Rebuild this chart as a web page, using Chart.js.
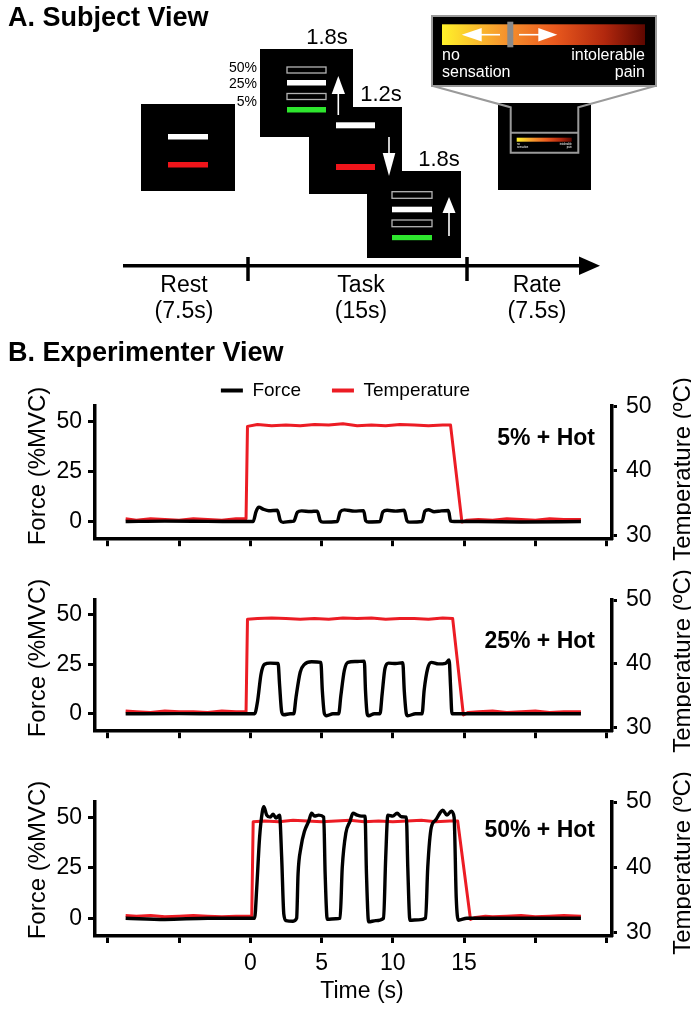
<!DOCTYPE html>
<html>
<head>
<meta charset="utf-8">
<script src="https://cdn.jsdelivr.net/npm/chart.js@4.4.1/dist/chart.umd.min.js"></script>
<style>
  html, body { margin: 0; padding: 0; background: #fff; }
  #page { position: relative; width: 691px; height: 1009px; overflow: hidden; }
  canvas { position: absolute; left: 0; }
  #overlay { position: absolute; left: 0; top: 0; pointer-events: none; }
</style>
</head>
<body>
<div id="page">
  <canvas id="p1" width="691" height="222" style="top:340px;width:691px;height:222px"></canvas>
  <canvas id="p2" width="691" height="177" style="top:577px;width:691px;height:177px"></canvas>
  <canvas id="p3" width="691" height="230" style="top:779px;width:691px;height:230px"></canvas>

  <svg id="overlay" width="691" height="1009" font-family="'Liberation Sans', Arial, sans-serif">
    <defs>
      <linearGradient id="painGrad" x1="0" x2="1" y1="0" y2="0">
        <stop offset="0" stop-color="#fff22a"/>
        <stop offset="0.3" stop-color="#f6962e"/>
        <stop offset="0.55" stop-color="#ea5a1e"/>
        <stop offset="0.8" stop-color="#b2280e"/>
        <stop offset="1" stop-color="#5e0700"/>
      </linearGradient>
    </defs>

    <!-- A. Subject View -->
    <text x="8" y="26" font-size="27" font-weight="bold">A. Subject View</text>

    <!-- rest screen -->
    <rect x="141" y="104" width="94" height="87" fill="#000"/>
    <rect x="168" y="134" width="40" height="5.5" fill="#fff"/>
    <rect x="168" y="162" width="40" height="5.5" fill="#f0141a"/>

    <!-- task screens -->
    <rect x="260" y="49" width="93" height="88" fill="#000"/>
    <rect x="309" y="107" width="93" height="87" fill="#000"/>
    <rect x="367" y="171" width="94" height="87" fill="#000"/>

    <rect x="287" y="67" width="39" height="6" fill="none" stroke="#b4b4b4" stroke-width="1.3"/>
    <rect x="287" y="80" width="39" height="5.5" fill="#fff"/>
    <rect x="287" y="93.5" width="39" height="6" fill="none" stroke="#b4b4b4" stroke-width="1.3"/>
    <rect x="287" y="107" width="39" height="5.5" fill="#2ee62e"/>
    <line x1="338.3" y1="115" x2="338.3" y2="92" stroke="#fff" stroke-width="1.6"/>
    <polygon points="331.7,94 345,94 338.3,76" fill="#fff"/>

    <rect x="336" y="122.3" width="39" height="6" fill="#fff"/>
    <rect x="336" y="164" width="39" height="6" fill="#f0141a"/>
    <line x1="389" y1="137" x2="389" y2="155" stroke="#fff" stroke-width="1.6"/>
    <polygon points="382.7,153 395.3,153 389,176" fill="#fff"/>

    <rect x="392" y="191.7" width="40" height="6.6" fill="none" stroke="#b4b4b4" stroke-width="1.3"/>
    <rect x="392" y="206.7" width="40" height="5.6" fill="#fff"/>
    <rect x="392" y="220" width="40" height="6.7" fill="none" stroke="#b4b4b4" stroke-width="1.3"/>
    <rect x="392" y="235" width="40" height="5.2" fill="#2ee62e"/>
    <line x1="449" y1="236" x2="449" y2="211" stroke="#fff" stroke-width="1.6"/>
    <polygon points="442.5,213 455.5,213 449,197" fill="#fff"/>

    <text x="327" y="44" font-size="22" text-anchor="middle">1.8s</text>
    <text x="381" y="101" font-size="22" text-anchor="middle">1.2s</text>
    <text x="439" y="166" font-size="22" text-anchor="middle">1.8s</text>
    <text x="257" y="71.5" font-size="14" text-anchor="end">50%</text>
    <text x="257" y="88" font-size="14" text-anchor="end">25%</text>
    <text x="257" y="105.5" font-size="14" text-anchor="end">5%</text>

    <!-- rate screen with zoomed scale -->
    <rect x="498" y="103" width="93" height="87" fill="#000"/>
    <polyline points="433,86 510.7,107.3 510.7,152.7 578.3,152.7 578.3,107.3 655,86" fill="none" stroke="#9a9a9a" stroke-width="2"/>
    <line x1="510.7" y1="132.7" x2="578.3" y2="132.7" stroke="#9a9a9a" stroke-width="2"/>
    <rect x="516.7" y="137.7" width="55" height="4" fill="url(#painGrad)"/>
    <text x="517" y="145" font-size="2.6" fill="#fff">no</text>
    <text x="517" y="148" font-size="2.6" fill="#fff">sensation</text>
    <text x="571.7" y="145" font-size="2.6" fill="#fff" text-anchor="end">intolerable</text>
    <text x="571.7" y="148" font-size="2.6" fill="#fff" text-anchor="end">pain</text>

    <rect x="432" y="16" width="224" height="70" fill="#000" stroke="#9a9a9a" stroke-width="2"/>
    <rect x="442" y="24.3" width="203" height="20.7" fill="url(#painGrad)"/>
    <rect x="507.3" y="21.7" width="6" height="25.6" fill="#8a8a8a"/>
    <line x1="500" y1="34.7" x2="480" y2="34.7" stroke="#fff" stroke-width="1.6"/>
    <polygon points="481.7,28 481.7,41.4 461.7,34.7" fill="#fff"/>
    <line x1="519" y1="34.7" x2="540" y2="34.7" stroke="#fff" stroke-width="1.6"/>
    <polygon points="538.3,28 538.3,41.4 557.3,34.7" fill="#fff"/>
    <text x="442" y="60" font-size="16" fill="#fff">no</text>
    <text x="442" y="77" font-size="16" fill="#fff">sensation</text>
    <text x="645" y="60" font-size="16" fill="#fff" text-anchor="end">intolerable</text>
    <text x="645" y="77" font-size="16" fill="#fff" text-anchor="end">pain</text>

    <!-- timeline -->
    <line x1="123" y1="265.7" x2="582" y2="265.7" stroke="#000" stroke-width="3.5"/>
    <polygon points="579,256.5 579,275 600,265.7" fill="#000"/>
    <line x1="248" y1="257" x2="248" y2="281" stroke="#000" stroke-width="3.5"/>
    <line x1="467" y1="257" x2="467" y2="281" stroke="#000" stroke-width="3.5"/>
    <text x="184" y="292" font-size="23" text-anchor="middle">Rest</text>
    <text x="184" y="318" font-size="23" text-anchor="middle">(7.5s)</text>
    <text x="361" y="292" font-size="23" text-anchor="middle">Task</text>
    <text x="361" y="318" font-size="23" text-anchor="middle">(15s)</text>
    <text x="537" y="292" font-size="23" text-anchor="middle">Rate</text>
    <text x="537" y="318" font-size="23" text-anchor="middle">(7.5s)</text>

    <!-- B. Experimenter View -->
    <text x="8" y="361" font-size="27" font-weight="bold">B. Experimenter View</text>

    <text transform="translate(36,466) rotate(-90)" font-size="24" text-anchor="middle" dominant-baseline="central">Force (%MVC)</text>
    <text transform="translate(36,658) rotate(-90)" font-size="24" text-anchor="middle" dominant-baseline="central">Force (%MVC)</text>
    <text transform="translate(36,860) rotate(-90)" font-size="24" text-anchor="middle" dominant-baseline="central">Force (%MVC)</text>
    <text transform="translate(681,469) rotate(-90)" font-size="24" text-anchor="middle" dominant-baseline="central">Temperature (ºC)</text>
    <text transform="translate(681,661) rotate(-90)" font-size="24" text-anchor="middle" dominant-baseline="central">Temperature (ºC)</text>
    <text transform="translate(681,863) rotate(-90)" font-size="24" text-anchor="middle" dominant-baseline="central">Temperature (ºC)</text>

    <text x="595" y="445" font-size="23" font-weight="bold" text-anchor="end">5% + Hot</text>
    <text x="595" y="648" font-size="23" font-weight="bold" text-anchor="end">25% + Hot</text>
    <text x="595" y="837" font-size="23" font-weight="bold" text-anchor="end">50% + Hot</text>

    <text x="362" y="998" font-size="23" text-anchor="middle">Time (s)</text>
  </svg>
</div>

<script>
// ── Data ────────────────────────────────────────────────────────────────────
const timeTicks = [-10, -5, 0, 5, 10, 15, 20, 25];
const timeLabels = [0, 5, 10, 15];
const forceTicks = [0, 25, 50];
const tempTicks = [30, 40, 50];

// [time (s), force (%MVC)]
const force5 = [[-8.75,0],[-6,0.2],[-3,0.1],[0.2,0],[0.4,5],[0.6,7.2],[0.9,6.2],[1.3,5.4],[1.9,5.6],[2.1,0.5],[2.3,-0.4],[2.8,0],
  [3.05,0.2],[3.3,4.6],[3.6,5.3],[4.2,5],[4.7,5.2],[4.9,0.5],[5.1,-0.3],[6.1,0],[6.3,4.8],[6.6,5.8],[7.3,5.2],[7.95,5.4],
  [8.1,0.4],[8.3,-0.2],[9.1,0],[9.3,4.8],[9.6,5.6],[10.2,5.2],[10.8,5.6],[11.0,0.3],[11.2,-0.3],[12.05,0],[12.25,5.2],
  [12.5,5.9],[12.9,4.9],[13.4,5.3],[13.9,5.5],[14.05,0.3],[14.3,0],[16,0],[19,-0.2],[23.2,0]];

const force25 = [[-8.75,0],[-5,0.1],[-2,0],[0.3,0],[0.5,6],[0.75,20],[1.0,25],[1.4,25.6],[1.95,25.4],[2.05,15],[2.2,1],[2.35,-0.5],
  [2.8,0],[3.05,0],[3.2,8],[3.5,21],[3.8,25],[4.3,26.3],[4.95,26],[5.05,12],[5.2,0],[5.35,-1],[5.8,0],[6.2,0],[6.35,9],
  [6.6,22],[6.85,26],[7.4,26.4],[8.0,26.6],[8.08,12],[8.2,0],[8.3,-1],[8.7,0],[9.1,0],[9.25,10],[9.45,23],[9.7,25.6],
  [10.2,25.4],[10.7,25.8],[10.8,12],[10.95,0],[11.05,-1],[11.6,0],[12.05,0],[12.2,12],[12.45,23],[12.7,26],[13.2,25.2],
  [13.7,25.5],[13.95,27.2],[14.05,14],[14.15,0],[14.5,0],[17,0],[23.2,0]];

const force50 = [[-8.75,0],[-6,-0.6],[-3,0],[0.3,0],[0.45,15],[0.65,40],[0.85,53],[0.95,55.2],[1.15,51],[1.4,50],[1.6,51.5],
  [1.8,49.5],[2.05,51],[2.2,30],[2.35,2],[2.5,-1.2],[3.0,-1.5],[3.25,0],[3.35,22],[3.55,35],[3.8,43],[4.1,48],[4.3,52],
  [4.5,50.5],[4.8,51],[5.15,50],[5.25,22],[5.4,-0.5],[6.0,-0.3],[6.3,0],[6.45,25],[6.7,42],[7.0,48],[7.2,52],[7.5,51],
  [7.8,50.5],[8.05,50.5],[8.15,22],[8.3,-1.8],[8.8,-1.2],[9.35,0],[9.5,30],[9.65,51],[10.0,50.5],[10.3,52],[10.6,50.2],
  [10.95,50],[11.05,25],[11.2,-1],[11.8,-0.8],[12.3,0],[12.45,25],[12.7,45],[13.0,48.5],[13.3,52],[13.5,53.5],[13.8,51],
  [14.1,53],[14.3,50],[14.45,10],[14.6,-1],[15.2,0],[18,0],[23.2,0]];

// [time (s), temperature (ºC)]
const temp5 = [[-8.75,32.6],[-8,32.4],[-7,32.6],[-6,32.5],[-5,32.4],[-4,32.6],[-3,32.5],[-2,32.4],[-1,32.6],[-0.3,32.6],
  [-0.2,46.9],[0.5,47.2],[1.5,47.0],[2.5,47.1],[3.5,47.0],[4.5,47.2],[5.5,47.1],[6.5,47.3],[7.5,47.0],[8.5,47.1],[9.5,47.0],
  [10.5,47.2],[11.5,47.1],[12.5,47.0],[13.5,47.1],[14.05,47.1],[14.85,32.1],[15.2,32.4],[16,32.5],[17,32.4],[18,32.6],
  [19,32.5],[20,32.4],[21,32.6],[22,32.5],[23.2,32.5]];

const temp25 = [[-8.75,32.6],[-8,32.5],[-7,32.4],[-6,32.6],[-5,32.5],[-4,32.5],[-3,32.4],[-2,32.6],[-1,32.5],[-0.3,32.5],
  [-0.2,47.0],[0.5,47.1],[1.5,47.2],[2.5,47.1],[3.5,47.0],[4.5,47.1],[5.5,47.0],[6.5,47.2],[7.5,47.1],[8.5,47.2],[9.5,47.0],
  [10.5,47.1],[11.5,47.1],[12.5,47.0],[13.5,47.2],[14.2,47.1],[14.95,32.0],[15.3,32.4],[16,32.5],[17,32.6],[18,32.4],
  [19,32.5],[20,32.6],[21,32.4],[22,32.5],[23.2,32.5]];

const temp50 = [[-8.75,32.6],[-8,32.5],[-7,32.6],[-6,32.4],[-5,32.5],[-4,32.6],[-3,32.5],[-2,32.4],[-1,32.5],[0.1,32.5],
  [0.2,47.0],[1,47.1],[2,47.0],[3,47.2],[4,47.1],[5,47.0],[6,47.1],[7,47.2],[8,47.0],[9,47.1],[10,47.0],[11,47.1],
  [12,47.2],[13,47.0],[14,47.1],[14.55,47.1],[15.45,32.0],[15.8,32.3],[16.5,32.5],[17,32.4],[18,32.5],[19,32.6],
  [20,32.4],[21,32.5],[22,32.6],[23.2,32.5]];

// ── Styles / geometry ───────────────────────────────────────────────────────
const FORCE_COLOR = '#000000';
const TEMP_COLOR = '#ec1c24';
const FONT = "'Liberation Sans', Arial, sans-serif";
const LEGEND_HEIGHT = 56;

Chart.defaults.font.family = FONT;
Chart.defaults.color = '#000';

// the legend sits in a fixed-height band so the plot area lines up
const legendHeightFix = {
  id: 'legendHeightFix',
  beforeLayout(chart) {
    const lg = chart.legend;
    if (!lg || lg._fixed) return;
    const fit = lg.fit;
    lg.fit = function () { fit.call(this); this.height = LEGEND_HEIGHT; };
    lg._fixed = true;
  }
};

function toPoints(pairs) {
  return pairs.map(function (p) { return { x: p[0], y: p[1] }; });
}

function axisGrid(len) {
  return { display: true, drawOnChartArea: false, drawTicks: true, tickLength: len, tickWidth: 3, tickColor: '#000', color: '#000' };
}

function renderPanel(canvasId, force, temp, opt) {
  const ctx = document.getElementById(canvasId);
  return new Chart(ctx, {
    type: 'line',
    data: {
      datasets: [{
        label: 'Force',
        data: toPoints(force),
        yAxisID: 'yForce',
        borderColor: FORCE_COLOR,
        backgroundColor: FORCE_COLOR,
        borderWidth: 3.4,
        pointRadius: 0,
        cubicInterpolationMode: 'monotone',
        borderJoinStyle: 'round',
      }, {
        label: 'Temperature',
        data: toPoints(temp),
        yAxisID: 'yTemp',
        borderColor: TEMP_COLOR,
        backgroundColor: TEMP_COLOR,
        borderWidth: 3,
        pointRadius: 0,
        borderJoinStyle: 'round',
      }]
    },
    options: {
      responsive: false,
      animation: false,
      devicePixelRatio: 1,
      events: [],
      layout: { padding: { top: opt.padTop, left: 0, right: 0, bottom: 0 } },
      plugins: {
        tooltip: { enabled: false },
        legend: {
          display: !!opt.legend,
          position: 'top',
          labels: {
            usePointStyle: true,
            pointStyleWidth: 22,
            boxHeight: 4,
            padding: 31,
            color: '#000',
            font: { size: 19 },
            generateLabels: function (chart) {
              const items = Chart.defaults.plugins.legend.labels.generateLabels(chart);
              items.forEach(function (it) { it.pointStyle = 'line'; it.lineWidth = 4; });
              return items;
            }
          }
        }
      },
      scales: {
        x: {
          type: 'linear',
          min: -10.9,
          max: 25.38,
          afterBuildTicks: function (s) { s.ticks = timeTicks.map(function (v) { return { value: v }; }); },
          afterFit: function (s) { s.height = opt.xHeight; },
          grid: axisGrid(7),
          border: { display: true, width: 3.5, color: '#000' },
          ticks: {
            autoSkip: false, maxRotation: 0, padding: 7, color: '#000', font: { size: 23 },
            callback: function (v) { return opt.showX && timeLabels.indexOf(v) >= 0 ? String(v) : ''; }
          }
        },
        yForce: {
          type: 'linear',
          position: 'left',
          min: -8.8,
          max: 57.6,
          afterBuildTicks: function (s) { s.ticks = forceTicks.map(function (v) { return { value: v }; }); },
          afterFit: function (s) { s.width = 95; },
          grid: axisGrid(7),
          border: { display: true, width: 3.5, color: '#000' },
          ticks: { padding: 6, color: '#000', font: { size: 23 } }
        },
        yTemp: {
          type: 'linear',
          position: 'right',
          min: 29.45,
          max: 50.05,
          afterBuildTicks: function (s) { s.ticks = tempTicks.map(function (v) { return { value: v }; }); },
          afterFit: function (s) { s.width = 79; },
          grid: axisGrid(5),
          border: { display: true, width: 3.5, color: '#000' },
          ticks: { padding: 9, color: '#000', font: { size: 23 } }
        }
      }
    },
    plugins: opt.legend ? [legendHeightFix] : []
  });
}

renderPanel('p1', force5, temp5, { legend: true, padTop: 10, xHeight: 20, showX: false });
renderPanel('p2', force25, temp25, { legend: false, padTop: 20, xHeight: 20, showX: false });
renderPanel('p3', force50, temp50, { legend: false, padTop: 20, xHeight: 73, showX: true });
</script>
</body>
</html>
